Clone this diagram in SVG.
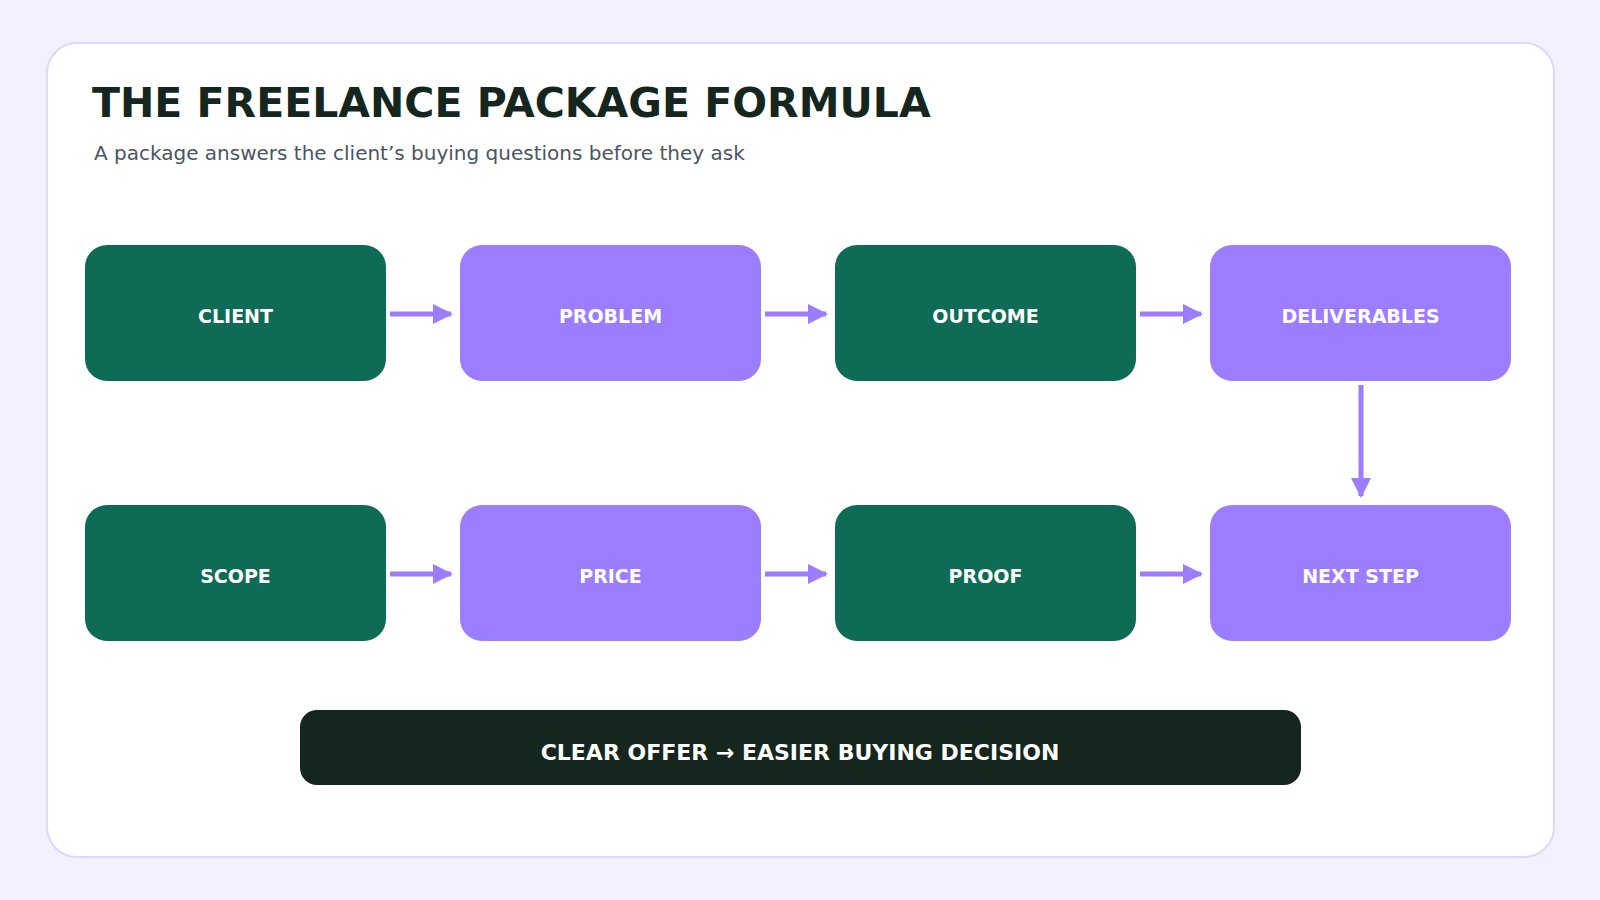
<svg xmlns="http://www.w3.org/2000/svg" width="1600" height="900" viewBox="0 0 1600 900">
<defs>
<marker id="ah" markerWidth="4" markerHeight="4" refX="3.6" refY="2" orient="auto" markerUnits="strokeWidth"><path d="M0,0 L4,2 L0,4 Z" fill="#9d7dff"/></marker>
<style>
.g{fill:#0e6b55}.p{fill:#9d7dff}
.lbl{font-family:"DejaVu Sans",sans-serif;font-weight:bold;font-size:19px;fill:#fff;text-anchor:middle}
.c{stroke:#9d7dff;stroke-width:5;fill:none;marker-end:url(#ah)}
</style>
</defs>
<rect width="1600" height="900" fill="#f3f0ff"/>
<rect x="47" y="43" width="1507" height="814" rx="30" fill="#fff" stroke="#ddd6fe" stroke-width="2"/>
<text x="92" y="117" font-family="DejaVu Sans,sans-serif" font-weight="bold" font-size="41" fill="#15261f">THE FREELANCE PACKAGE FORMULA</text>
<text x="94" y="160" font-family="DejaVu Sans,sans-serif" font-size="20" fill="#4b5563">A package answers the client’s buying questions before they ask</text>
<g id="client"><rect class="g" x="85" y="245" width="301" height="136" rx="22"/><text class="lbl" x="235.5" y="323">CLIENT</text></g>
<g id="problem"><rect class="p" x="460" y="245" width="301" height="136" rx="22"/><text class="lbl" x="610.5" y="323">PROBLEM</text></g>
<g id="outcome"><rect class="g" x="835" y="245" width="301" height="136" rx="22"/><text class="lbl" x="985.5" y="323">OUTCOME</text></g>
<g id="deliverables"><rect class="p" x="1210" y="245" width="301" height="136" rx="22"/><text class="lbl" x="1360.5" y="323">DELIVERABLES</text></g>
<g id="scope"><rect class="g" x="85" y="505" width="301" height="136" rx="22"/><text class="lbl" x="235.5" y="583">SCOPE</text></g>
<g id="price"><rect class="p" x="460" y="505" width="301" height="136" rx="22"/><text class="lbl" x="610.5" y="583">PRICE</text></g>
<g id="proof"><rect class="g" x="835" y="505" width="301" height="136" rx="22"/><text class="lbl" x="985.5" y="583">PROOF</text></g>
<g id="nextstep"><rect class="p" x="1210" y="505" width="301" height="136" rx="22"/><text class="lbl" x="1360.5" y="583">NEXT STEP</text></g>
<g id="connectors">
<line class="c" x1="390" y1="314" x2="451" y2="314"/>
<line class="c" x1="765" y1="314" x2="826" y2="314"/>
<line class="c" x1="1140" y1="314" x2="1201" y2="314"/>
<line class="c" x1="1361" y1="385" x2="1361" y2="496"/>
<line class="c" x1="390" y1="574" x2="451" y2="574"/>
<line class="c" x1="765" y1="574" x2="826" y2="574"/>
<line class="c" x1="1140" y1="574" x2="1201" y2="574"/>
</g>
<g id="summary"><rect x="300" y="710" width="1001" height="75" rx="17" fill="#15261f"/><text x="800" y="760" font-family="DejaVu Sans,sans-serif" font-weight="bold" font-size="22" fill="#fff" text-anchor="middle">CLEAR OFFER → EASIER BUYING DECISION</text></g>
</svg>
